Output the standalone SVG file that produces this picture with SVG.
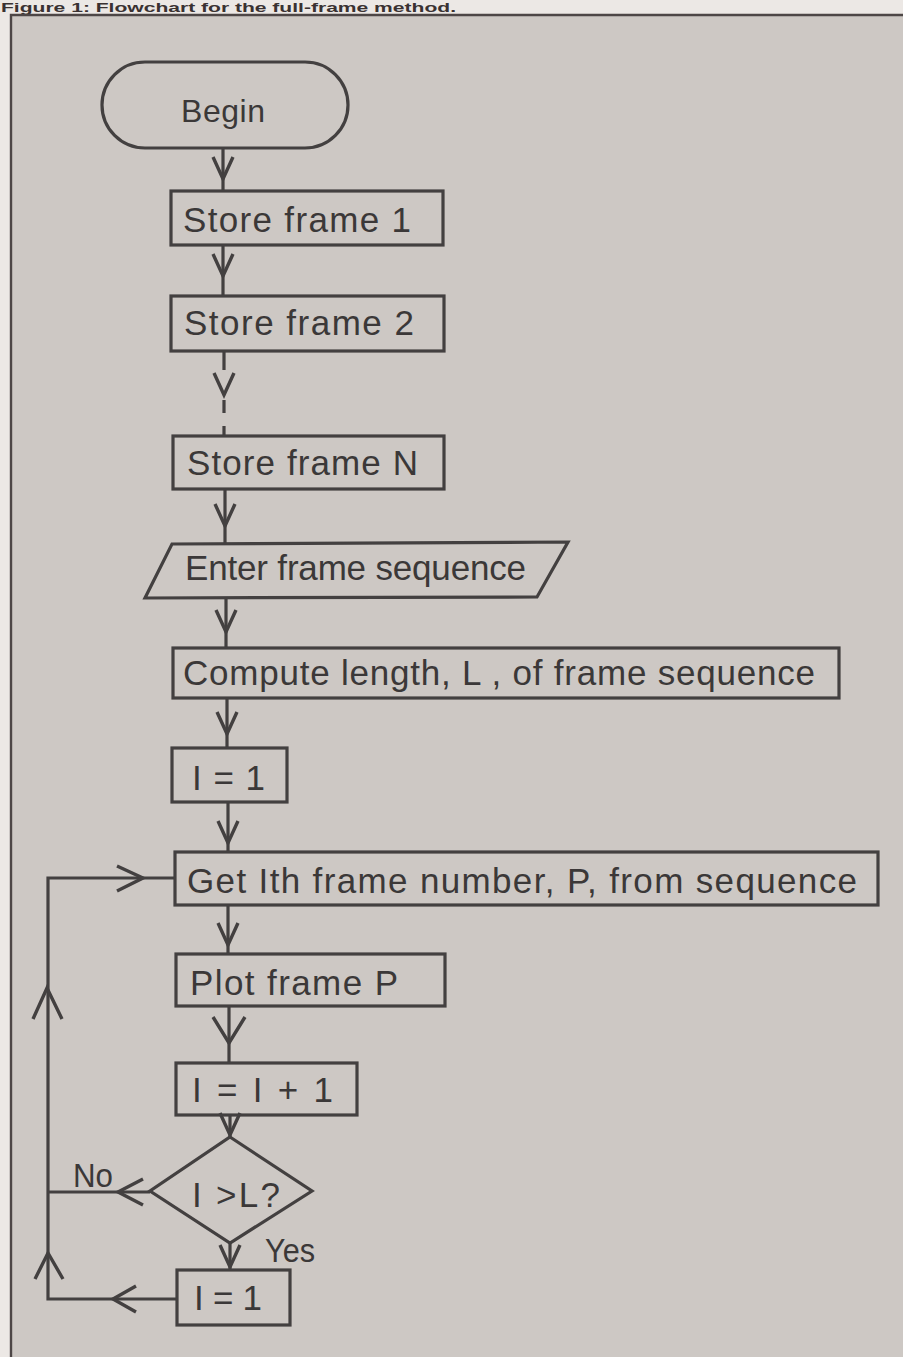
<svg xmlns="http://www.w3.org/2000/svg" xmlns:xlink="http://www.w3.org/1999/xlink" width="903" height="1357" viewBox="0 0 903 1357">
<style>
.shape{fill:none;stroke:#434040;stroke-width:3.2;stroke-linejoin:miter}
.line{fill:none;stroke:#434040;stroke-width:3.2;stroke-linecap:butt}
.chev{fill:none;stroke:#434040;stroke-width:3.4;stroke-linejoin:miter}
.t{font-family:"Liberation Sans",Arial,sans-serif;font-size:35px;fill:#3b3838}
.lbl{font-family:"Liberation Sans",Arial,sans-serif;font-size:33px;fill:#3b3838}
.title{font-family:"Liberation Sans",Arial,sans-serif;font-weight:bold;font-size:12px;fill:#3a3232}
</style>
<defs>
<path id="chevD" d="M-10,-22 L0,0 L10,-22"/>
<path id="chevDL" d="M-16,-26 L0,0 L16,-26"/>
</defs>
<rect x="0" y="0" width="903" height="1357" fill="#ece8e5"/>
<rect x="11" y="15" width="892" height="1342" fill="#cdc8c4"/>
<text class="title" x="1" y="12" textLength="455" lengthAdjust="spacingAndGlyphs">Figure 1: Flowchart for the full-frame method.</text>
<path d="M11,1357 L11,15 L903,15" fill="none" stroke="#4d4646" stroke-width="2.4"/>

<g id="connectors">
<path class="line" d="M223,148 V191"/>
<use href="#chevD" class="chev" x="223" y="179"/>
<path class="line" d="M223,245 V295"/>
<use href="#chevD" class="chev" x="223" y="276"/>
<path class="line" d="M224,352 V370 M224,400 V413 M224,426 V436"/>
<use href="#chevD" class="chev" x="224" y="395"/>
<path class="line" d="M225,489 V544"/>
<use href="#chevD" class="chev" x="225" y="526"/>
<path class="line" d="M226,598 V649"/>
<use href="#chevD" class="chev" x="226" y="632"/>
<path class="line" d="M227,698 V748"/>
<use href="#chevD" class="chev" x="227" y="734"/>
<path class="line" d="M228,802 V853"/>
<use href="#chevD" class="chev" x="228" y="843"/>
<path class="line" d="M228,905 V954"/>
<use href="#chevD" class="chev" x="228" y="945"/>
<path class="line" d="M229,1006 V1063"/>
<use href="#chevDL" class="chev" x="229" y="1043"/>
<path class="line" d="M230,1115 V1137"/>
<use href="#chevD" class="chev" x="230" y="1135"/>
<path class="line" d="M230,1243 V1270"/>
<use href="#chevD" class="chev" x="230" y="1267"/>
<path class="line" d="M150,1192 H48"/>
<path class="chev" d="M143,1179 L118,1192 L143,1205"/>
<path class="line" d="M177,1299 H48 V878 H175"/>
<path class="chev" d="M136,1286 L113,1299 L136,1312"/>
<path class="chev" d="M35,1279 L48,1253 L63,1279"/>
<path class="chev" d="M33,1019 L47,988 L62,1019"/>
<path class="chev" d="M117,866 L143,878 L117,891"/>
</g>

<g id="begin">
<rect class="shape" x="102" y="62" width="246" height="86" rx="43" ry="43"/>
<text class="t" style="font-size:32px" x="181" y="122" textLength="84">Begin</text>
</g>
<g id="store1">
<rect class="shape" x="171" y="191" width="272" height="54"/>
<text class="t" x="183" y="232" textLength="228">Store frame 1</text>
</g>
<g id="store2">
<rect class="shape" x="171" y="296" width="273" height="55"/>
<text class="t" x="184" y="335" textLength="230">Store frame 2</text>
</g>
<g id="storeN">
<rect class="shape" x="173" y="436" width="271" height="53"/>
<text class="t" x="187" y="475" textLength="231">Store frame N</text>
</g>
<g id="enter">
<polygon class="shape" points="172,544 568,542 537,597 145,598"/>
<text class="t" x="185" y="580" textLength="341">Enter frame sequence</text>
</g>
<g id="compute">
<rect class="shape" x="173" y="648" width="666" height="50"/>
<text class="t" x="183" y="685" textLength="632">Compute length, L , of frame sequence</text>
</g>
<g id="init1">
<rect class="shape" x="172" y="748" width="115" height="54"/>
<text class="t" x="192" y="790" textLength="73">I = 1</text>
</g>
<g id="get">
<rect class="shape" x="175" y="852" width="703" height="53"/>
<text class="t" x="187" y="893" textLength="670">Get Ith frame number, P, from sequence</text>
</g>
<g id="plot">
<rect class="shape" x="176" y="954" width="269" height="52"/>
<text class="t" x="190" y="995" textLength="208">Plot frame P</text>
</g>
<g id="incr">
<rect class="shape" x="176" y="1063" width="181" height="52"/>
<text class="t" x="192" y="1102" textLength="141">I = I + 1</text>
</g>
<g id="decision">
<polygon class="shape" points="230,1137 312,1191 230,1243 150,1191"/>
<text class="t" x="192" y="1207" textLength="88">I &gt;L?</text>
<text class="lbl" x="73" y="1187" textLength="40" lengthAdjust="spacingAndGlyphs">No</text>
<text class="lbl" x="265" y="1262" textLength="50" lengthAdjust="spacingAndGlyphs">Yes</text>
</g>
<g id="reset1">
<rect class="shape" x="177" y="1270" width="113" height="55"/>
<text class="t" x="194" y="1310" textLength="68">I = 1</text>
</g>
</svg>
